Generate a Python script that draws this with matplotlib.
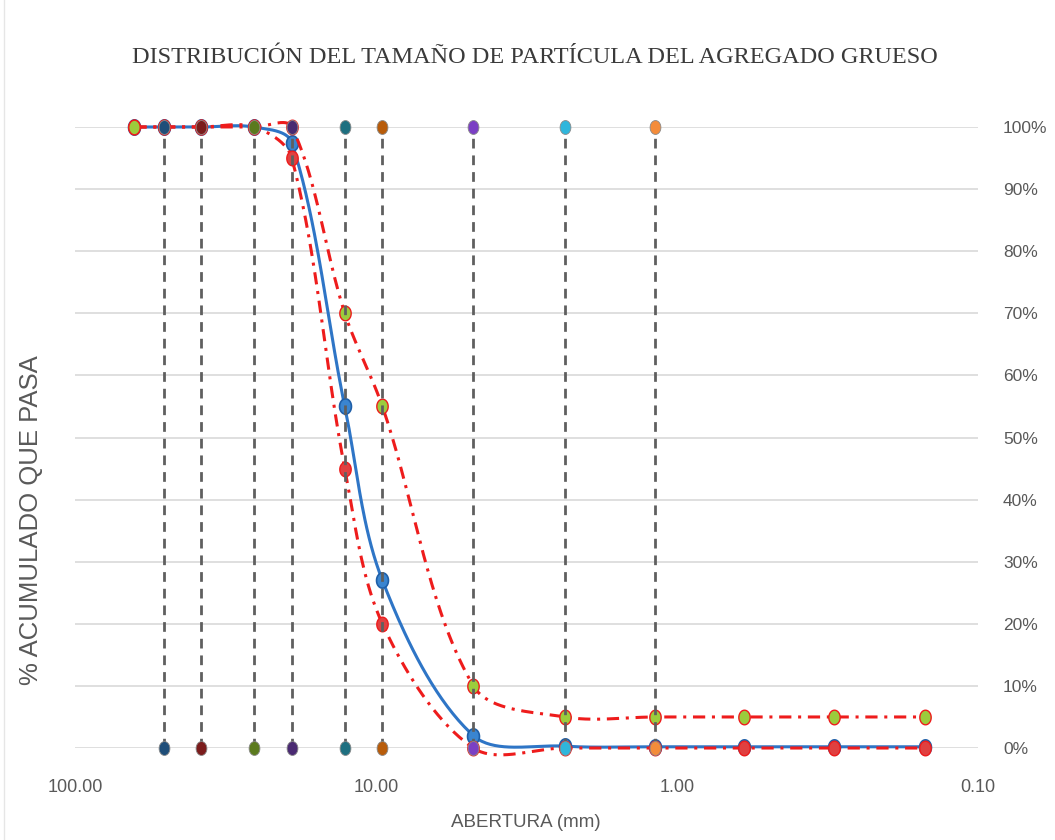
import matplotlib
matplotlib.use("Agg")
import matplotlib.pyplot as plt
import numpy as np
from matplotlib.lines import Line2D
from matplotlib.path import Path
from matplotlib.ticker import FixedLocator, FixedFormatter, PercentFormatter

# ------------------------------------------------------------------
# Data
# ------------------------------------------------------------------
sieve_mm = [63.5, 50.8, 38.1, 25.4, 19.05, 12.7, 9.525, 4.75, 2.36, 1.18, 0.6, 0.3, 0.15]
pasa_muestra = [100, 100, 100, 100, 97.5, 55, 27, 2, 0.3, 0.2, 0.2, 0.2, 0.2]
limite_inferior = [100, 100, 100, 100, 95, 45, 20, 0, 0, 0, 0, 0, 0]
limite_superior = [100, 100, 100, 100, 100, 70, 55, 10, 5, 5, 5, 5, 5]

guide_mm = [50.8, 38.1, 25.4, 19.05, 12.7, 9.525, 4.75, 2.36, 1.18]
guide_colors = ["#1f4e79", "#7b1c1c", "#5b7a1e", "#4a2a72", "#1e6f80",
                "#b85c0a", "#7b3fc4", "#2fb6dc", "#f48c3a"]

x_ticks = [100, 10, 1, 0.1]
x_tick_labels = ["100.00", "10.00", "1.00", "0.10"]
y_ticks = [0, 10, 20, 30, 40, 50, 60, 70, 80, 90, 100]

TITLE = "DISTRIBUCIÓN DEL TAMAÑO DE PARTÍCULA DEL AGREGADO GRUESO"
SANS = ["Liberation Sans", "DejaVu Sans"]

# pixel scale of the plot (per decade in x, per percent in y), used for smoothing
PX_DECADE = 301.0
PX_PERCENT = 6.21


def smooth(x, y, n=40):
    """Smoothed line through the points: cubic Bezier, chord-weighted tangents."""
    u = np.log10(np.asarray(x, dtype=float)) * PX_DECADE
    v = np.asarray(y, dtype=float) * PX_PERCENT
    p = np.column_stack([u, v])
    m = len(p)
    d = np.linalg.norm(np.diff(p, axis=0), axis=1)
    t = np.linspace(0, 1, n)[:, None]
    out = []
    for i in range(m - 1):
        p1, p2 = p[i], p[i + 1]
        if i == 0:
            c1 = p1 + (p2 - p1) / 3.0
        else:
            c1 = p1 + (p2 - p[i - 1]) * d[i] / (d[i - 1] + d[i]) / 3.0
        if i == m - 2:
            c2 = p2 - (p2 - p1) / 3.0
        else:
            c2 = p2 - (p[i + 2] - p1) * d[i] / (d[i] + d[i + 1]) / 3.0
        seg = ((1 - t) ** 3) * p1 + 3 * ((1 - t) ** 2) * t * c1 + 3 * (1 - t) * t ** 2 * c2 + t ** 3 * p2
        out.append(seg if i == 0 else seg[1:])
    out = np.vstack(out)
    return 10 ** (out[:, 0] / PX_DECADE), out[:, 1] / PX_PERCENT


# slightly tall elliptical marker, like the reference
_th = np.linspace(0, 2 * np.pi, 40)
ELLIPSE = Path(np.column_stack([0.78 * np.cos(_th), np.sin(_th)]), closed=True)

fig = plt.figure(figsize=(10.55, 8.4), dpi=100)
ax = fig.add_axes([0.0711, 0.1095, 0.856, 0.7393])

ax.set_xscale("log")
ax.set_xlim(100, 0.1)
ax.set_ylim(0, 100)

for yv in y_ticks:
    ax.axhline(yv, color="#d9d9d9", linewidth=1.2, zorder=0)

red = "#ee1c1c"
dashdot = (0, (4, 2.2, 1, 2.2))

# blue: muestra
xs, ys = smooth(sieve_mm, pasa_muestra)
ax.plot(xs, ys, color="#2e75c6", linewidth=2.2, zorder=3, clip_on=False)
ax.plot(sieve_mm, pasa_muestra, linestyle="none", marker=ELLIPSE, markersize=11,
        markerfacecolor="#3a85d0", markeredgecolor="#1f5fa8", markeredgewidth=1.2,
        zorder=4, clip_on=False)

# lower limit
xs, ys = smooth(sieve_mm, limite_inferior)
ax.plot(xs, ys, color=red, linewidth=2.2, linestyle=dashdot, zorder=5, clip_on=False)
ax.plot(sieve_mm, limite_inferior, linestyle="none", marker=ELLIPSE, markersize=10.5,
        markerfacecolor="#e04040", markeredgecolor=red, markeredgewidth=1.0,
        zorder=6, clip_on=False)

# upper limit
xs, ys = smooth(sieve_mm, limite_superior)
ax.plot(xs, ys, color=red, linewidth=2.2, linestyle=dashdot, zorder=5, clip_on=False)
ax.plot(sieve_mm, limite_superior, linestyle="none", marker=ELLIPSE, markersize=10.5,
        markerfacecolor="#9ccc3c", markeredgecolor=red, markeredgewidth=1.0,
        zorder=6, clip_on=False)

# vertical sieve guides
for xv, col in zip(guide_mm, guide_colors):
    ax.plot([xv, xv], [0, 100], color="#5f5f5f", linewidth=2.0,
            linestyle=(0, (3.5, 2.5)), zorder=7, clip_on=False)
    ax.plot([xv, xv], [0, 100], linestyle="none", marker=ELLIPSE, markersize=10,
            markerfacecolor=col, markeredgecolor="#8a8a8a", markeredgewidth=0.6,
            zorder=8, clip_on=False)

for s in ax.spines.values():
    s.set_visible(False)

ax.xaxis.set_major_locator(FixedLocator(x_ticks))
ax.xaxis.set_major_formatter(FixedFormatter(x_tick_labels))
ax.xaxis.set_minor_locator(FixedLocator([]))
ax.yaxis.set_major_locator(FixedLocator(y_ticks))
ax.yaxis.set_major_formatter(PercentFormatter(decimals=0))
ax.yaxis.tick_right()
ax.tick_params(axis="both", length=0, colors="#595959")
ax.tick_params(axis="x", pad=22)
ax.tick_params(axis="y", pad=18)
for lbl in ax.get_xticklabels():
    lbl.set_family(SANS)
    lbl.set_fontsize(13)
for lbl in ax.get_yticklabels():
    lbl.set_family(SANS)
    lbl.set_fontsize(12.5)

fig.text(0.507, 0.932, TITLE, ha="center", va="center", fontsize=17.5,
         family=["Liberation Serif", "DejaVu Serif"], color="#3a3a3a")
fig.text(0.498, 0.021, "ABERTURA (mm)", ha="center", va="center", fontsize=13.5,
         family=SANS, color="#595959")
fig.text(0.029, 0.381, "% ACUMULADO QUE PASA", ha="center", va="center",
         rotation=90, fontsize=18.5, family=SANS, color="#595959")

fig.add_artist(Line2D([0.004, 0.004], [0.0, 1.0], color="#e6e6e6", linewidth=1.0))

fig.savefig("out.png", dpi=100)
